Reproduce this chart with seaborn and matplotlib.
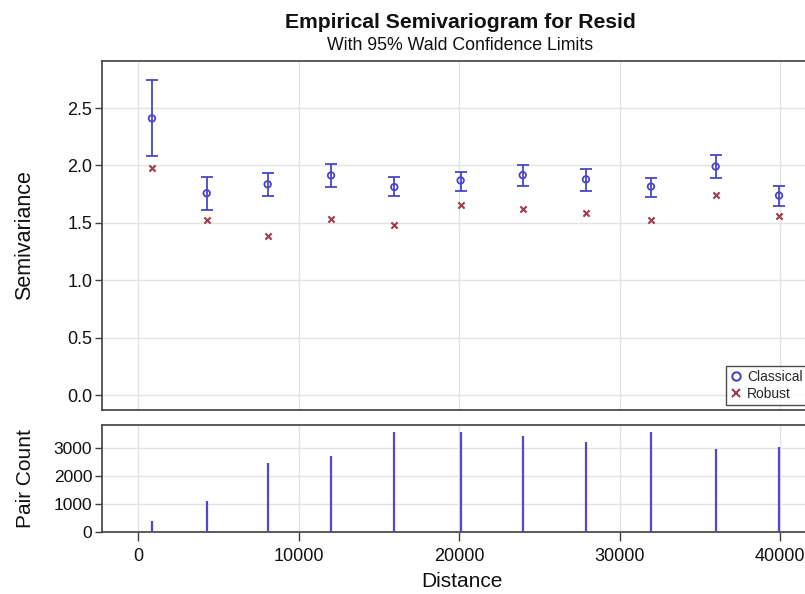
import numpy as np
import pandas as pd
import matplotlib
matplotlib.use("Agg")
import matplotlib.pyplot as plt
import seaborn as sns
from matplotlib.lines import Line2D

# Lag class centroids (distance)
distance = [870, 4280, 8080, 12030, 15970, 20100, 23970, 27910, 31960, 35990, 39940]
# Classical semivariance estimates with 95% Wald limits
classical = [2.41, 1.758, 1.836, 1.913, 1.812, 1.870, 1.916, 1.879, 1.816, 1.991, 1.738]
lower_cl = [2.085, 1.613, 1.734, 1.812, 1.734, 1.781, 1.824, 1.781, 1.723, 1.888, 1.645]
upper_cl = [2.742, 1.902, 1.933, 2.011, 1.902, 1.945, 2.000, 1.965, 1.890, 2.093, 1.824]
# Robust semivariance estimates
robust = [1.98, 1.527, 1.383, 1.535, 1.483, 1.660, 1.625, 1.582, 1.527, 1.747, 1.560]
# Number of pairs in each lag class
pair_count = [400, 1120, 2475, 2715, 3580, 3580, 3440, 3215, 3580, 2950, 3045]

semi_ticks = [0.0, 0.5, 1.0, 1.5, 2.0, 2.5]
count_ticks = [0, 1000, 2000, 3000]
dist_ticks = [0, 10000, 20000, 30000, 40000]

BLUE = "#4a45c8"
BAR = "#5248d0"
RED = "#a03a4c"
GRID = "#e3e3e3"
SPINE = "#404040"
TXT = "#111111"

sns.set_theme(style="white")
plt.rcParams["font.family"] = ["Liberation Sans", "DejaVu Sans"]

W, H = 805, 594
fig = plt.figure(figsize=(W / 100, H / 100), dpi=100)

def box(l, t, r, b):
    return [l / W, 1 - b / H, (r - l) / W, (b - t) / H]

ax1 = fig.add_axes(box(102, 61, 815, 410))
ax2 = fig.add_axes(box(102, 425, 815, 532), sharex=ax1)

df = pd.DataFrame({"Distance": distance, "Classical": classical,
                   "Robust": robust, "Lower": lower_cl, "Upper": upper_cl,
                   "Pairs": pair_count})

# Wald confidence limits
ax1.errorbar(df["Distance"], df["Classical"],
             yerr=[df["Classical"] - df["Lower"], df["Upper"] - df["Classical"]],
             fmt="none", ecolor=BLUE, elinewidth=1.3, capsize=4.6, capthick=1.3,
             zorder=3)
sns.scatterplot(data=df, x="Distance", y="Classical", ax=ax1, marker="o",
                s=22, facecolor="none", edgecolor=BLUE, linewidth=1.3,
                zorder=4, legend=False)
sns.scatterplot(data=df, x="Distance", y="Robust", ax=ax1, marker="x",
                s=20, color=RED, linewidth=1.5, zorder=4, legend=False)

ax1.set_xlim(-2243, 42180)
ax1.set_ylim(-0.13, 2.91)
ax1.set_yticks(semi_ticks)
ax1.set_yticklabels([f"{v:.1f}" for v in semi_ticks])
ax1.set_xticks(dist_ticks)
ax1.grid(True, color=GRID, linewidth=1.0)
ax1.set_axisbelow(True)
ax1.set_xlabel("")
ax1.set_ylabel("Semivariance", fontsize=15.5, color=TXT)
ax1.yaxis.set_label_coords(-0.094, 0.5)
ax1.tick_params(axis="x", which="both", bottom=False, labelbottom=False)
ax1.tick_params(axis="y", left=True, direction="out", length=5, width=1,
                color=SPINE, labelsize=13, pad=2, labelcolor=TXT)

handles = [Line2D([], [], marker="o", linestyle="none", markerfacecolor="none",
                  markeredgecolor=BLUE, markeredgewidth=1.5, markersize=6,
                  label="Classical"),
           Line2D([], [], marker="x", linestyle="none", color=RED,
                  markeredgewidth=1.5, markersize=6, label="Robust")]
leg = ax1.legend(handles=handles, loc="lower right", fontsize=10,
                 frameon=True, fancybox=False, borderaxespad=0.35,
                 handlelength=0.8, handletextpad=0.4, labelspacing=0.2,
                 borderpad=0.3, bbox_to_anchor=(0.995, 0.0))
leg.get_frame().set_edgecolor("#202020")
leg.get_frame().set_linewidth(1.0)

# Pair counts per lag
sns.despine(ax=ax2, top=False, right=False)
ax2.vlines(df["Distance"], 0, df["Pairs"], color=BAR, linewidth=1.6, zorder=3)
ax2.set_ylim(0, 3820)
ax2.set_yticks(count_ticks)
ax2.set_xticks(dist_ticks)
ax2.set_xticklabels([str(v) for v in dist_ticks])
ax2.grid(True, color=GRID, linewidth=1.0)
ax2.set_axisbelow(True)
ax2.set_xlabel("Distance", fontsize=15, color=TXT)
ax2.xaxis.set_label_coords(0.505, -0.375)
ax2.set_ylabel("Pair Count", fontsize=15, color=TXT)
ax2.yaxis.set_label_coords(-0.094, 0.5)
ax2.tick_params(axis="x", bottom=True, direction="out", length=6.5, width=1,
                color=SPINE, labelsize=13, pad=5, labelcolor=TXT)
ax2.tick_params(axis="y", left=True, direction="out", length=5, width=1,
                color=SPINE, labelsize=12.5, pad=2, labelcolor=TXT)

for ax in (ax1, ax2):
    for s in ax.spines.values():
        s.set_color(SPINE)
        s.set_linewidth(1.2)

fig.text(460 / W, 1 - 23 / H, "Empirical Semivariogram for Resid",
         ha="center", va="center", fontsize=15.2, fontweight="bold", color=TXT)
fig.text(460 / W, 1 - 45 / H, "With 95% Wald Confidence Limits",
         ha="center", va="center", fontsize=12.8, color=TXT)

fig.savefig("out.png", dpi=100, facecolor="white")
